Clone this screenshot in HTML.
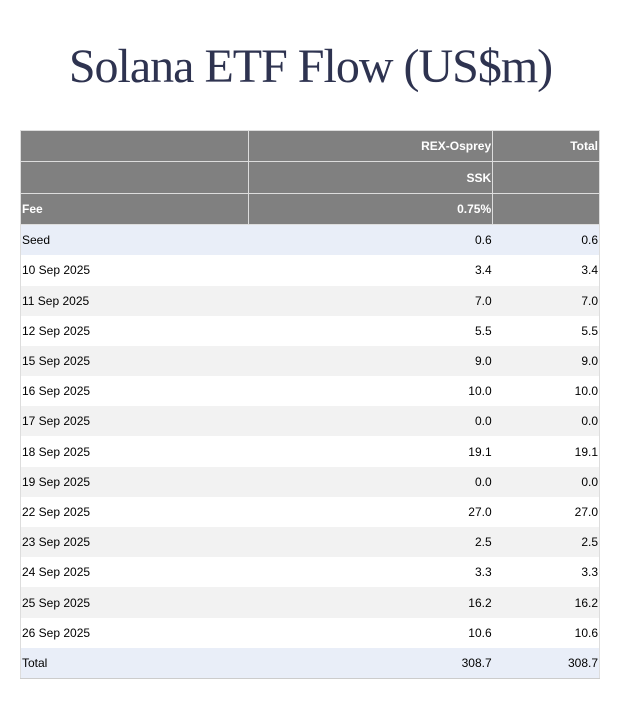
<!DOCTYPE html>
<html><head><style>
body{margin:0;width:621px;height:702px;background:#fff;overflow:hidden;font-family:"Liberation Sans",Arial,sans-serif;}
h1{position:absolute;top:37px;left:0;width:621px;margin:0;text-align:center;font-family:"Liberation Serif",serif;font-weight:normal;font-size:48px;line-height:60px;color:#2e3350;letter-spacing:-1px;}
table{position:absolute;left:20px;top:130px;width:580px;border-collapse:collapse;font-size:12px;color:#000;}
td{padding:0 1px;height:30.2px;text-align:right;}
td:first-child{text-align:left;}
tr.h td{background:#808080;color:#fff;font-weight:bold;height:30.4px;border:1px solid #ddd;}
tr.b td{background:#e9eef8;}
tr.g td{background:#f2f2f2;}
tr.w td{background:#fff;}
col.a{width:228px}col.b{width:245px}col.c{width:107px}
tr.last td{border-bottom:1px solid #ccc;}
tr td:first-child{border-left:1px solid #ddd;}
tr td:last-child{border-right:1px solid #ddd;}
</style></head><body>
<h1>Solana ETF Flow (US$m)</h1>
<table>
<colgroup><col class="a"><col class="b"><col class="c"></colgroup>
<tr class="h"><td></td><td>REX-Osprey</td><td>Total</td></tr>
<tr class="h"><td></td><td>SSK</td><td></td></tr>
<tr class="h"><td>Fee</td><td>0.75%</td><td></td></tr>
<tr class="b"><td>Seed</td><td>0.6</td><td>0.6</td></tr>
<tr class="w"><td>10 Sep 2025</td><td>3.4</td><td>3.4</td></tr>
<tr class="g"><td>11 Sep 2025</td><td>7.0</td><td>7.0</td></tr>
<tr class="w"><td>12 Sep 2025</td><td>5.5</td><td>5.5</td></tr>
<tr class="g"><td>15 Sep 2025</td><td>9.0</td><td>9.0</td></tr>
<tr class="w"><td>16 Sep 2025</td><td>10.0</td><td>10.0</td></tr>
<tr class="g"><td>17 Sep 2025</td><td>0.0</td><td>0.0</td></tr>
<tr class="w"><td>18 Sep 2025</td><td>19.1</td><td>19.1</td></tr>
<tr class="g"><td>19 Sep 2025</td><td>0.0</td><td>0.0</td></tr>
<tr class="w"><td>22 Sep 2025</td><td>27.0</td><td>27.0</td></tr>
<tr class="g"><td>23 Sep 2025</td><td>2.5</td><td>2.5</td></tr>
<tr class="w"><td>24 Sep 2025</td><td>3.3</td><td>3.3</td></tr>
<tr class="g"><td>25 Sep 2025</td><td>16.2</td><td>16.2</td></tr>
<tr class="w"><td>26 Sep 2025</td><td>10.6</td><td>10.6</td></tr>
<tr class="b last"><td>Total</td><td>308.7</td><td>308.7</td></tr>
</table>
</body></html>
